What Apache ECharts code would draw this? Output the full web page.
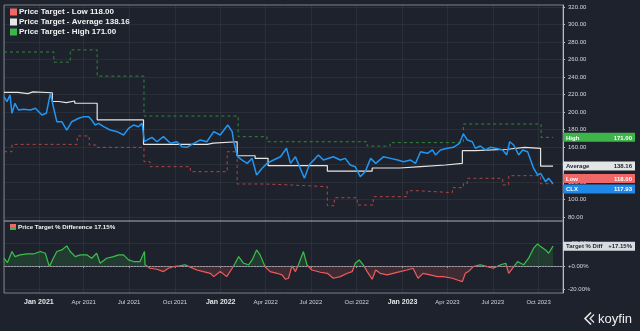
<!DOCTYPE html>
<html><head><meta charset="utf-8">
<script src="https://cdn.jsdelivr.net/npm/echarts@6/dist/echarts.min.js"></script>
<style>html,body{margin:0;padding:0;background:#1e222c;}#c{width:640px;height:331px;}</style>
</head><body><div id="c"></div>
<script>
// ---------- DATA ----------
const xMin = '2020-10-23';
const xMax = '2023-11-19';

const priceDates = ['2020-10-23','2020-10-29','2020-11-04','2020-11-08','2020-11-14','2020-11-21','2020-12-01','2020-12-15','2020-12-25',
'2021-01-07','2021-01-16','2021-01-24','2021-01-30','2021-02-06','2021-02-16','2021-02-26','2021-03-08','2021-03-22','2021-04-01','2021-04-11','2021-04-17','2021-04-24','2021-05-01','2021-05-11','2021-05-24','2021-06-07','2021-06-20','2021-06-30','2021-07-10','2021-07-20','2021-07-27','2021-08-01','2021-08-06','2021-08-16','2021-08-26','2021-09-08','2021-09-22','2021-10-05','2021-10-15','2021-10-25','2021-11-08','2021-11-21','2021-12-04','2021-12-18','2021-12-31',
'2022-01-15','2022-01-24','2022-01-27','2022-02-04','2022-02-13','2022-02-23','2022-03-05','2022-03-14','2022-03-25','2022-04-04','2022-04-17','2022-05-01','2022-05-13','2022-05-21','2022-05-31','2022-06-10','2022-06-18','2022-06-28','2022-07-10','2022-07-16','2022-07-26','2022-08-15','2022-08-29','2022-09-08','2022-09-18','2022-09-28','2022-10-08','2022-10-18','2022-10-29','2022-11-08','2022-11-24','2022-12-08','2022-12-22',
'2023-01-03','2023-01-17','2023-01-27','2023-02-06','2023-02-20','2023-03-02','2023-03-08','2023-03-18','2023-04-01','2023-04-13','2023-04-25','2023-05-03','2023-05-11','2023-05-21','2023-05-27','2023-06-06','2023-06-16','2023-06-26','2023-07-07','2023-07-21','2023-07-29','2023-08-04','2023-08-12','2023-08-22','2023-08-30','2023-09-09','2023-09-15','2023-09-21','2023-09-29','2023-10-05','2023-10-15','2023-10-21','2023-10-30'];
const priceVals = [217.5,211.8,219.4,198.5,209.9,202.3,203,202.3,204.2,
196.6,198.5,221.3,206.1,188.9,188.9,179.4,188.9,192.8,194.7,194.7,190.9,185.1,187,183.2,179.4,177.5,173.7,181.3,185.1,183.2,187,166,168,171,166,171.8,164.2,166,160.4,159.6,164.2,168,166,177.5,173.7,
185.1,177.5,166,148.9,145.1,141.3,147,128,135.7,141.3,145.1,148.9,158.5,141.3,148.9,135,124.2,140,147,150.9,145.1,148.9,145.1,147,139.4,137.5,126.1,131.8,147,141.3,148.9,147,145.1,
143.2,145.1,141.3,154.6,152.8,156.6,150.9,156.6,158.5,159.6,164.2,174.9,168,166,158.5,161.1,156.6,159.6,158.5,156.6,150.9,166,162.3,150.9,156.6,154.6,145.1,135.7,128,129.9,120.3,124.2,117.93];

const avgDates = ['2020-10-23','2020-11-20','2020-12-10','2020-12-20','2021-01-28','2021-02-10','2021-02-25','2021-03-14','2021-04-28','2021-07-30','2021-12-05','2021-12-17','2022-02-03','2022-03-11','2022-04-06','2022-08-03','2022-11-01','2022-12-27','2023-02-06','2023-03-28','2023-05-01','2023-05-27','2023-07-31','2023-09-03','2023-10-05','2023-10-30'];
const avgVals = [222.5,221,223,222,212,210.7,212.6,210,191,163,164.5,166,150,147,138.8,132.3,136,137.5,139.4,141.3,155.8,157.4,159.6,158.5,138.16,138.16];

const highDates = ['2020-10-23','2021-01-31','2021-03-05','2021-04-28','2021-07-31','2022-02-05','2022-04-04','2022-10-22','2022-12-07','2023-05-03','2023-10-06','2023-10-30'];
const highVals = [268.6,257,271,241,195.4,171.8,166,161,165,186.3,171,171];

const lowDates = ['2020-10-23','2020-11-08','2021-03-19','2021-04-12','2021-04-28','2021-07-31','2021-08-12','2021-11-01','2022-01-14','2022-02-03','2022-03-31','2022-05-21','2022-08-03','2022-08-17','2022-10-02','2022-11-03','2023-01-10','2023-02-01','2023-04-11','2023-05-03','2023-05-11','2023-07-21','2023-08-02','2023-10-05','2023-10-30'];
const lowVals = [154.6,163,172.6,162.3,159.6,143.2,137.5,131.8,154.6,117.7,116.6,114.6,92.9,102,93.7,103.2,110,107.8,113.5,118.5,124.2,116.6,127.2,118,118];

const diffDates = ['2020-10-23','2020-10-30','2020-11-08','2020-11-14','2020-11-24','2020-12-08','2020-12-21','2021-01-04','2021-01-14','2021-01-22','2021-01-30','2021-02-06','2021-02-16','2021-02-26','2021-03-05','2021-03-15','2021-03-25','2021-04-07','2021-04-17','2021-04-27','2021-05-04','2021-05-17','2021-05-31','2021-06-10','2021-06-20','2021-06-30','2021-07-10','2021-07-23','2021-08-01','2021-08-02','2021-08-12','2021-08-26','2021-09-08','2021-09-18','2021-09-28','2021-10-11','2021-10-21','2021-11-01','2021-11-14','2021-11-27','2021-12-11','2021-12-18','2021-12-31',
'2022-01-13','2022-01-24','2022-01-30','2022-02-06','2022-02-16','2022-02-26','2022-03-05','2022-03-14','2022-03-21','2022-03-31','2022-04-10','2022-04-24','2022-05-04','2022-05-11','2022-05-17','2022-05-24','2022-05-31','2022-06-06','2022-06-16','2022-06-23','2022-07-03','2022-07-20','2022-08-03','2022-08-15','2022-08-29','2022-09-12','2022-09-22','2022-09-28','2022-10-06','2022-10-14','2022-10-22','2022-11-01','2022-11-08','2022-11-17','2022-12-01','2022-12-13','2022-12-27',
'2023-01-10','2023-01-22','2023-02-01','2023-02-11','2023-02-25','2023-03-12','2023-03-24','2023-04-11','2023-04-21','2023-05-01','2023-05-07','2023-05-13','2023-05-23','2023-06-06','2023-06-20','2023-07-02','2023-07-17','2023-07-27','2023-08-02','2023-08-10','2023-08-20','2023-08-26','2023-09-01','2023-09-11','2023-09-21','2023-09-29','2023-10-05','2023-10-15','2023-10-21','2023-10-30'];
const diffVals = [6.7,2.9,12.5,8.1,9.6,10.4,10.4,12.5,11,-0.6,6.7,12.5,13.9,17.4,12.5,8.1,9.6,9.6,6.7,11,2.3,6.7,8.1,9.6,9.6,5.2,3.8,3.8,12.5,1,-2,-2.9,-4.9,-2,-0.6,0,1,-1,-3.5,-4.9,-6.4,-9.3,-4.9,
-9.3,-2,2.3,8.1,2.3,1,5.2,13.9,9.6,-0.6,-4.9,-6.4,-7.8,-11.6,-10.7,0,-4.9,1,12.5,1,-3.5,-5.5,-6.4,-10.7,-9.3,-6.4,-4.9,2.3,5.2,1,-4.9,-11.6,-3.5,-6.4,-7.8,-6.4,-4.9,
-3.5,-2,-10.7,-6.4,-7.8,-9.3,-9.3,-10.7,-12.2,-13.6,-6.4,-4.9,-0.6,1,-0.6,-2,1,2.3,-6.4,-2,3.8,2.3,1,6.7,15.4,19.1,16.8,13.9,11,17.15];

const priceTicks = [80,100,120,140,160,180,200,220,240,260,280,300,320];
const diffTicks = [-20,0,20];
const monthNames = ['Jan','Feb','Mar','Apr','May','Jun','Jul','Aug','Sep','Oct','Nov','Dec'];

const tickerName = 'CLX';
const lowName = 'Price Target - Low';
const avgName = 'Price Target - Average';
const highName = 'Price Target - High';
const diffName = 'Price Target % Difference';

// ---------- CHART ----------
const zip = (d, v) => d.map((x, i) => [x, v[i]]);
const last = a => a[a.length - 1];
const FONT = 'Liberation Sans';
const C = {
  bg: '#1e222c', grid: 'rgba(255,255,255,0.055)', frame: '#7b808a', text: '#d3d6dc',
  blue: '#2196f3', avg: '#e6e6e6', highLine: '#2f8a3b', lowLine: '#b04646',
  green: '#3db54a', red: '#f06767', diffGreen: '#37c247', diffRed: '#f05a5a'
};
const lowLabel = lowName + ' ' + last(lowVals).toFixed(2);
const avgLabel = avgName + ' ' + last(avgVals).toFixed(2);
const highLabel = highName + ' ' + last(highVals).toFixed(2);
const diffLabel = diffName + ' ' + last(diffVals).toFixed(2) + '%';

const xAxisCommon = {
  type: 'time', min: xMin, max: xMax,
  minInterval: 91 * 86400000, maxInterval: 92 * 86400000, splitNumber: 12,
  splitLine: { show: true, lineStyle: { color: C.grid, width: 1 } }
};

const option = {
  backgroundColor: C.bg,
  animation: false,
  textStyle: { fontFamily: FONT },
  grid: [
    { left: 4, top: 5, width: 559, height: 216, show: true, borderColor: C.frame, borderWidth: 1 },
    { left: 4, top: 221, width: 559, height: 72, show: true, borderColor: C.frame, borderWidth: 1 }
  ],
  legend: [
    {
      left: 5, top: 3, orient: 'vertical', itemGap: 2, itemWidth: 7, itemHeight: 7,
      icon: 'rect', selectedMode: false,
      textStyle: { color: '#f2f2f2', fontSize: 8, fontWeight: 'bold', fontFamily: FONT, padding: [0, 0, 0, -3] },
      lineStyle: { opacity: 0 },
      data: [
        { name: lowLabel, itemStyle: { color: C.red, borderWidth: 0 } },
        { name: avgLabel, itemStyle: { color: '#e8e8e8', borderWidth: 0 } },
        { name: highLabel, itemStyle: { color: C.green, borderWidth: 0 } }
      ]
    },
    {
      left: 5, top: 219, itemWidth: 6, itemHeight: 6, icon: 'rect', selectedMode: false,
      textStyle: { color: '#f2f2f2', fontSize: 6.2, fontWeight: 'bold', fontFamily: FONT, padding: [0, 0, 0, -3] },
      lineStyle: { opacity: 0 },
      data: [{ name: diffLabel, itemStyle: { borderWidth: 0, color: new echarts.graphic.LinearGradient(0, 0, 0, 1, [
        { offset: 0, color: C.red }, { offset: 0.5, color: C.red }, { offset: 0.5, color: C.green }, { offset: 1, color: C.green }]) } }]
    }
  ],
  visualMap: {
    show: false, type: 'piecewise', seriesIndex: 4, dimension: 1,
    pieces: [{ gt: 0, lte: 1000, color: C.diffGreen }, { gte: -1000, lte: 0, color: C.diffRed }]
  },
  xAxis: [
    Object.assign({}, xAxisCommon, { gridIndex: 0, axisLine: { show: false }, axisTick: { show: false }, axisLabel: { show: false } }),
    Object.assign({}, xAxisCommon, {
      gridIndex: 1,
      axisLine: { show: true, lineStyle: { color: '#9a9ea6' } },
      axisTick: { show: true, length: 2, lineStyle: { color: '#9a9ea6' } },
      axisLabel: {
        margin: 6, hideOverlap: false, showMinLabel: false, showMaxLabel: false,
        formatter: function (val) {
          const d = new Date(val); const m = d.getMonth();
          if (m === 0) return '{b|Jan ' + d.getFullYear() + '}';
          return '{n|' + monthNames[m] + ' ' + d.getFullYear() + '}';
        },
        rich: {
          b: { fontSize: 7, fontWeight: 'bold', color: '#e4e6ea', fontFamily: FONT },
          n: { fontSize: 6, color: '#cfd2d8', fontFamily: FONT }
        }
      }
    })
  ],
  yAxis: [
    {
      gridIndex: 0, type: 'value', position: 'right', min: 75.4, max: 322.3,
      axisLine: { show: true, lineStyle: { color: '#b8bcc4' } },
      axisTick: { show: true, length: 2, customValues: priceTicks, lineStyle: { color: '#b8bcc4' } },
      axisLabel: { customValues: priceTicks, margin: 5, fontSize: 6, color: C.text, fontFamily: FONT, formatter: v => v.toFixed(2) },
      splitLine: { show: true, lineStyle: { color: C.grid } }
    },
    {
      gridIndex: 1, type: 'value', position: 'right', min: -23.5, max: 39,
      axisLine: { show: true, lineStyle: { color: '#b8bcc4' } },
      axisTick: { show: true, length: 2, customValues: diffTicks, lineStyle: { color: '#b8bcc4' } },
      axisLabel: { customValues: diffTicks, margin: 5, fontSize: 6, color: C.text, fontFamily: FONT,
        formatter: v => (v >= 0 ? '+' : '') + v.toFixed(2) + '%' },
      splitLine: { show: true, lineStyle: { color: C.grid } }
    }
  ],
  series: [
    { name: lowLabel, type: 'line', step: 'end', xAxisIndex: 0, yAxisIndex: 0, symbol: 'none', data: zip(lowDates, lowVals),
      lineStyle: { color: C.lowLine, width: 1, type: [3, 3] }, itemStyle: { color: C.lowLine }, z: 2 },
    { name: avgLabel, type: 'line', step: 'end', xAxisIndex: 0, yAxisIndex: 0, symbol: 'none', data: zip(avgDates, avgVals),
      lineStyle: { color: C.avg, width: 1.2 }, itemStyle: { color: C.avg }, z: 3 },
    { name: highLabel, type: 'line', step: 'end', xAxisIndex: 0, yAxisIndex: 0, symbol: 'none', data: zip(highDates, highVals),
      lineStyle: { color: C.highLine, width: 1, type: [3, 3] }, itemStyle: { color: C.highLine }, z: 2 },
    { name: tickerName, type: 'line', xAxisIndex: 0, yAxisIndex: 0, symbol: 'none', data: zip(priceDates, priceVals),
      lineStyle: { color: C.blue, width: 1.5 }, itemStyle: { color: C.blue }, z: 4 },
    { name: diffLabel, type: 'line', xAxisIndex: 1, yAxisIndex: 1, symbol: 'none', data: zip(diffDates, diffVals),
      lineStyle: { width: 1.2 }, areaStyle: { opacity: 0.16 },
      markLine: { silent: true, symbol: 'none', label: { show: false },
        lineStyle: { color: '#6f747e', type: [1, 2], width: 1 }, data: [{ yAxis: 0 }] } }
  ]
};

const chart = echarts.init(document.getElementById('c'), null, { renderer: 'canvas' });
chart.setOption(option);

// ---------- value tags on the right axis ----------
const rightX = chart.convertToPixel({ xAxisIndex: 0 }, new Date(xMax + 'T00:00:00').getTime());
const tagW = 72, tagH = 9, gap = 10.3;
const tags = [
  { label: 'High', val: last(highVals), txt: last(highVals).toFixed(2), bg: C.green, fg: '#ffffff', ax: 0 },
  { label: 'Average', val: last(avgVals), txt: last(avgVals).toFixed(2), bg: '#e3e4e6', fg: '#1e222c', ax: 0 },
  { label: 'Low', val: last(lowVals), txt: last(lowVals).toFixed(2), bg: C.red, fg: '#ffffff', ax: 0 },
  { label: tickerName, val: last(priceVals), txt: last(priceVals).toFixed(2), bg: '#1f88e8', fg: '#ffffff', ax: 0 }
];
tags.forEach(t => { t.y = chart.convertToPixel({ yAxisIndex: t.ax }, t.val); });
tags.sort((a, b) => a.y - b.y || b.val - a.val);
for (let k = 0; k < 30; k++) {
  for (let i = 1; i < tags.length; i++) {
    const d = gap - (tags[i].y - tags[i - 1].y);
    if (d > 0) { tags[i - 1].y -= d / 2; tags[i].y += d / 2; }
  }
}
const diffTag = { label: 'Target % Diff', txt: '+' + last(diffVals).toFixed(2) + '%', bg: '#d8dbe0', fg: '#1e222c',
  y: chart.convertToPixel({ yAxisIndex: 1 }, last(diffVals)) };
tags.push(diffTag);

const elements = [];
tags.forEach(t => {
  elements.push({ type: 'rect', z: 100, shape: { x: rightX, y: t.y - tagH / 2, width: tagW, height: tagH }, style: { fill: t.bg } });
  elements.push({ type: 'text', z: 101, x: rightX + 3, y: t.y + 0.5,
    style: { text: t.label, fill: t.fg, font: 'bold 6px ' + FONT, align: 'left', verticalAlign: 'middle', textAlign: 'left', textVerticalAlign: 'middle' } });
  elements.push({ type: 'text', z: 101, x: rightX + tagW - 3, y: t.y + 0.5,
    style: { text: t.txt, fill: t.fg, font: 'bold 6px ' + FONT, align: 'right', verticalAlign: 'middle', textAlign: 'right', textVerticalAlign: 'middle' } });
});
// koyfin watermark
elements.push({
  type: 'group', right: 8, bottom: 4, z: 100,
  children: [
    { type: 'polyline', shape: { points: [[6, 0], [0, 6], [6, 12]] }, style: { stroke: '#e8e8e8', lineWidth: 1.6, fill: null } },
    { type: 'polyline', shape: { points: [[9, 2], [5, 6], [9, 10]] }, style: { stroke: '#e8e8e8', lineWidth: 1.2, fill: null } },
    { type: 'text', x: 13, y: 0, style: { text: 'koyfin', fill: '#eeeeee', font: '13px ' + FONT } }
  ]
});
chart.setOption({ graphic: { elements: elements } });
</script>
</body></html>
